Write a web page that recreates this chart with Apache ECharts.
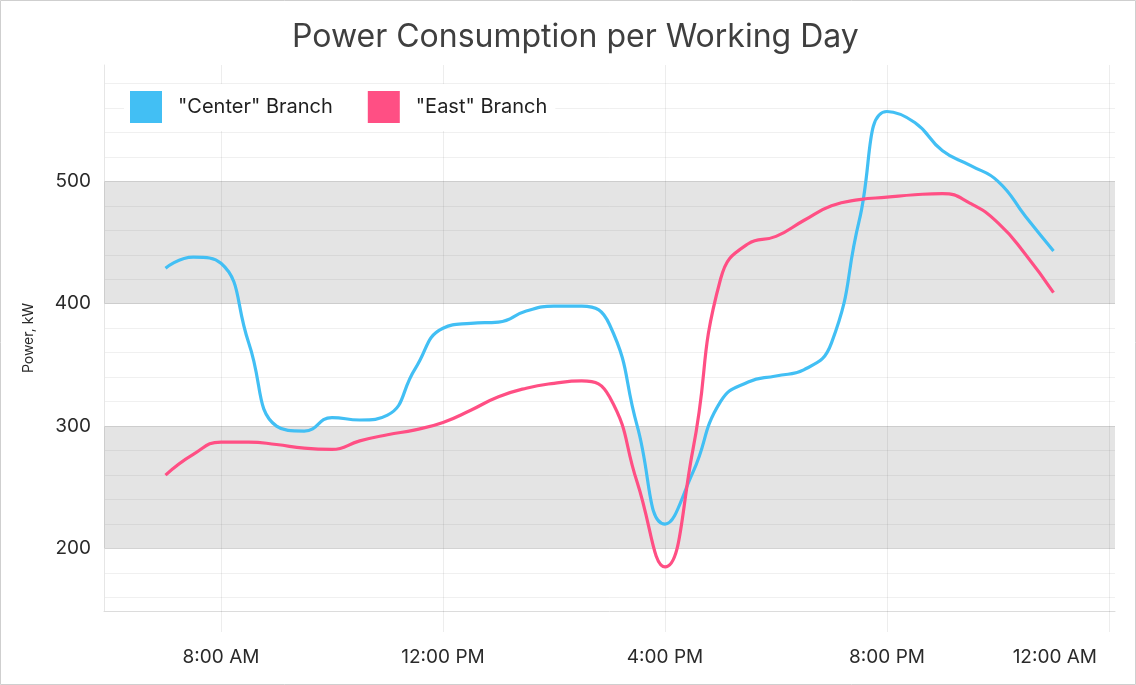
<!DOCTYPE html>
<html>
<head>
<meta charset="utf-8">
<title>Power Consumption per Working Day</title>
<script src="https://cdn.jsdelivr.net/npm/echarts@6/dist/echarts.min.js"></script>
<style>
  html, body { margin: 0; padding: 0; background: #fff; }
  #chart { width: 1136px; height: 685px; }
</style>
</head>
<body>
<div id="chart"></div>
<script>
// hours of the day, every half hour from 7:00 AM to 11:00 PM
const hours = [7, 7.5, 8, 8.5, 9, 9.5, 10, 10.5, 11, 11.5, 12, 12.5, 13, 13.5, 14, 14.5, 15,
  15.5, 16, 16.5, 17, 17.5, 18, 18.5, 19, 19.5, 20, 20.5, 21, 21.5, 22, 22.5, 23];

const centerBranch = [429, 438, 433, 368, 300, 296, 307, 305, 309, 347, 380, 384, 385, 394, 398, 398, 383,
  300, 220, 262, 320, 336, 341, 346, 368, 468, 557, 548, 525, 513, 500, 471, 443];

const eastBranch = [260, 277, 287, 287, 285, 282, 281, 288, 293, 297, 303, 313, 324, 331, 335, 337, 324,
  254, 185, 280, 420, 449, 455, 468, 480, 485, 487, 489, 490, 482, 466, 440, 409];

const hourTicks = [8, 12, 16, 20, 24];
const powerTicks = [200, 300, 400, 500];
const powerMinor = [160, 180, 200, 220, 240, 260, 280, 300, 320, 340, 360, 380, 400, 420, 440, 460, 480, 500, 520, 540, 560, 580];
const bands = [[200, 300], [400, 500]];

const FONT = 'Inter, "Noto Sans", sans-serif';

function hourLabel(h) {
  const hh = h % 24;
  const ampm = hh < 12 ? 'AM' : 'PM';
  const h12 = hh % 12 === 0 ? 12 : hh % 12;
  const txt = h12 + ':00 ' + ampm;
  // the last label is pulled inside the chart
  return h === 24 ? '{last|' + txt + '}' : txt;
}

const chart = echarts.init(document.getElementById('chart'));

const minorColor = 'rgba(0,0,0,0.06)';
const majorColor = 'rgba(0,0,0,0.13)';

const option = {
  animation: false,
  textStyle: { fontFamily: FONT },
  title: {
    text: 'Power Consumption per Working Day',
    left: 287,
    top: 16,
    textStyle: { fontFamily: FONT, fontSize: 32, fontWeight: 400, color: '#3f3f3f' }
  },
  legend: {
    data: ['"Center" Branch', '"East" Branch'],
    left: 124,
    top: 84,
    padding: [7, 8, 8, 6],
    backgroundColor: '#fff',
    icon: 'rect',
    itemWidth: 32,
    itemHeight: 32,
    itemGap: 35,
    textStyle: { fontFamily: FONT, fontSize: 20, color: '#1f1f1f', padding: [0, 0, 0, 11] }
  },
  grid: { left: 104, right: 21, top: 65, bottom: 74 },
  xAxis: {
    type: 'value',
    min: 5.892,
    max: 24.108,
    axisLine: { show: true, lineStyle: { color: '#dcdcdc', width: 1 } },
    axisTick: { show: true, customValues: hourTicks, length: 21, lineStyle: { color: 'rgba(0,0,0,0.07)' } },
    axisLabel: {
      customValues: hourTicks,
      formatter: hourLabel,
      margin: 37,
      fontFamily: FONT,
      fontSize: 19,
      color: '#2a2a2a',
      alignMaxLabel: 'right',
      rich: {
        last: { fontFamily: FONT, fontSize: 19, color: '#2a2a2a', padding: [0, 12, 0, 0] }
      }
    },
    splitLine: { show: true, lineStyle: { color: 'rgba(0,0,0,0.07)', width: 1 } }
  },
  yAxis: {
    type: 'value',
    min: 149,
    max: 595,
    name: 'Power, kW',
    nameLocation: 'middle',
    nameGap: 68,
    nameTextStyle: { fontFamily: FONT, fontSize: 14, color: '#2a2a2a' },
    axisLine: { show: true, lineStyle: { color: '#e6e6e6' } },
    axisTick: { show: false, customValues: powerMinor },
    axisLabel: { customValues: powerTicks, margin: 13, fontFamily: FONT, fontSize: 19, color: '#2a2a2a' },
    splitLine: {
      show: true,
      lineStyle: { color: [minorColor, minorColor, majorColor, minorColor, minorColor], width: 1 }
    }
  },
  series: [
    {
      name: 'bands',
      type: 'line',
      data: [],
      silent: true,
      z: 1,
      markArea: {
        silent: true,
        itemStyle: { color: 'rgba(0,0,0,0.105)' },
        data: bands.map(b => [{ yAxis: b[0] }, { yAxis: b[1] }])
      }
    },
    {
      name: '"Center" Branch',
      type: 'line',
      z: 3,
      smooth: 0.5,
      showSymbol: false,
      color: '#42bff4',
      lineStyle: { width: 3.2 },
      data: hours.map((h, i) => [h, centerBranch[i]])
    },
    {
      name: '"East" Branch',
      type: 'line',
      z: 3,
      smooth: 0.5,
      showSymbol: false,
      color: '#ff4f84',
      lineStyle: { width: 3.2 },
      data: hours.map((h, i) => [h, eastBranch[i]])
    }
  ],
  graphic: [{
    type: 'rect',
    silent: true,
    z: 100,
    shape: { x: 0.5, y: 0.5, width: 1135, height: 684 },
    style: { fill: 'none', stroke: '#cfcfcf', lineWidth: 1 }
  }]
};

chart.setOption(option);
</script>
</body>
</html>
